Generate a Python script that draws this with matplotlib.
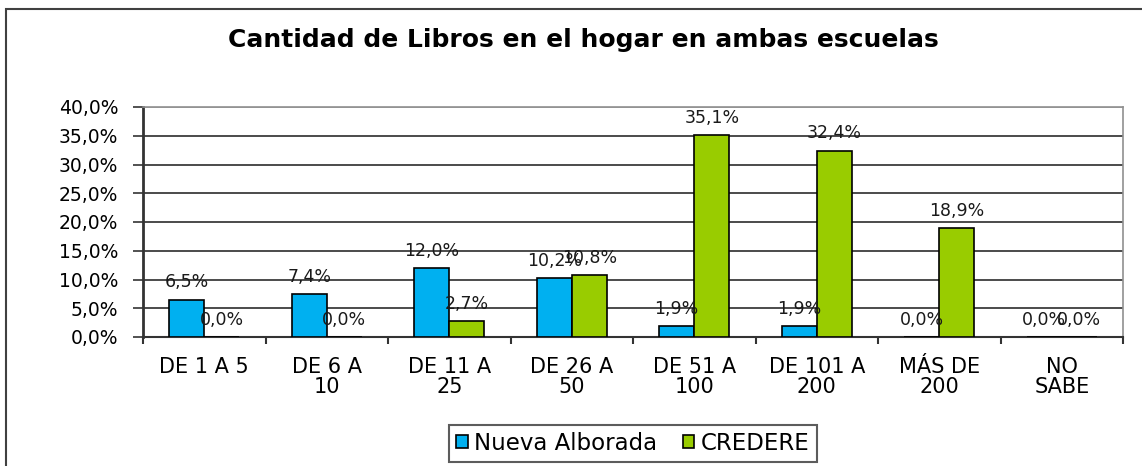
import matplotlib
matplotlib.use("Agg")
import matplotlib.pyplot as plt
from matplotlib.patches import Rectangle
import numpy as np

categories = ["DE 1 A 5", "DE 6 A\n10", "DE 11 A\n25", "DE 26 A\n50", "DE 51 A\n100",
              "DE 101 A\n200", "MÁS DE\n200", "NO\nSABE"]
nueva_alborada = [6.5, 7.4, 12.0, 10.2, 1.9, 1.9, 0.0, 0.0]
credere = [0.0, 0.0, 2.7, 10.8, 35.1, 32.4, 18.9, 0.0]
yticks = [0, 5, 10, 15, 20, 25, 30, 35, 40]
title = "Cantidad de Libros en el hogar en ambas escuelas"

plt.rcParams['font.family'] = ['DejaVu Sans']

W, H = 1142, 466
fig = plt.figure(figsize=(W / 100, H / 100), dpi=100)
fig.patch.set_facecolor("white")

# outer chart border
fig.patches.append(Rectangle((6 / W, -0.1), 1.2, 1 - 9 / H + 0.1, transform=fig.transFigure,
                             fill=False, edgecolor="#404040", linewidth=1.5))

ax = fig.add_axes([143 / W, 1 - 337 / H, (1123 - 143) / W, (337 - 107) / H])
x = np.arange(len(categories))
bw = 0.286
c_blue = "#00B0F0"
c_green = "#99CC00"
b1 = ax.bar(x - bw / 2, nueva_alborada, bw, color=c_blue, edgecolor="black", linewidth=1.2,
            label="Nueva Alborada", zorder=3)
b2 = ax.bar(x + bw / 2, credere, bw, color=c_green, edgecolor="black", linewidth=1.2,
            label="CREDERE", zorder=3)

for bars, vals in ((b1, nueva_alborada), (b2, credere)):
    for r, v in zip(bars, vals):
        ax.annotate(f"{v:.1f}%".replace(".", ","), (r.get_x() + r.get_width() / 2, v),
                    xytext=(0, 12.5), textcoords="offset points", ha="center", va="center",
                    fontsize=12.5, color="#1a1a1a", zorder=5)

ax.set_xlim(-0.5, len(categories) - 0.5)
ax.set_ylim(0, 40)
ax.set_yticks(yticks)
ax.set_yticklabels([f"{t:.1f}%".replace(".", ",") for t in yticks], fontsize=13.5)
for t in yticks[1:-1]:
    ax.axhline(t, color="#1a1a1a", linewidth=1.1, zorder=1)
ax.axhline(40, color="#909090", linewidth=1.2, zorder=1)

ax.set_xticks(x)
ax.set_xticklabels(categories, fontsize=15, linespacing=1.0)
ax.tick_params(axis="x", length=0, pad=14.5)
ax.set_xticks(np.arange(len(categories) + 1) - 0.5, minor=True)
ax.tick_params(axis="x", which="minor", length=5, width=1.5, color="#333333")
ax.tick_params(axis="y", length=7.2, width=1.2, color="#333333", pad=10.5)

for s in ("top", "right"):
    ax.spines[s].set_color("#909090")
    ax.spines[s].set_linewidth(1.2)
ax.spines["left"].set_color("#333333")
ax.spines["left"].set_linewidth(2)
ax.spines["bottom"].set_color("#333333")
ax.spines["bottom"].set_linewidth(1.5)

fig.text(583 / W, 1 - 40 / H, title, ha="center", va="center", fontsize=18, fontweight="bold")

leg = fig.legend(handles=[b1, b2], loc="center", bbox_to_anchor=(633 / W, 1 - 443.5 / H),
                 ncol=2, fontsize=16.5, frameon=True, fancybox=False, edgecolor="#333333",
                 handlelength=0.5, handleheight=0.5, handletextpad=0.3, columnspacing=1.1,
                 borderpad=0.3, borderaxespad=0)
leg.get_frame().set_linewidth(1.5)

fig.savefig("out.png", dpi=100)
